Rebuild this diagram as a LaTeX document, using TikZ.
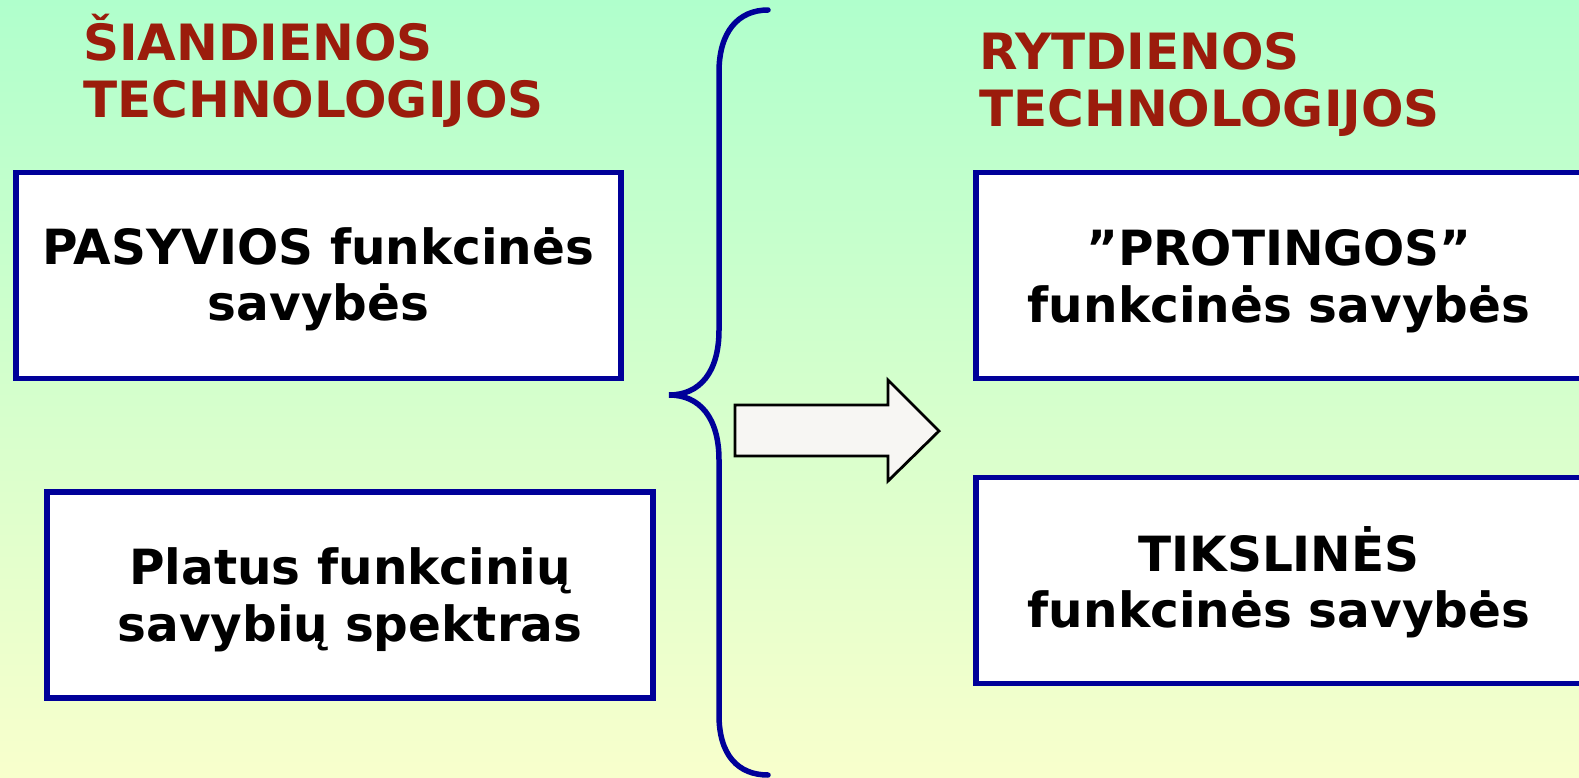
\documentclass[tikz,border=0pt]{standalone}
\usepackage{fontspec}
\setmainfont{DejaVu Sans}
\definecolor{boxblue}{RGB}{0,0,153}
\definecolor{titlered}{RGB}{155,28,12}
\definecolor{bgtop}{RGB}{176,255,204}
\definecolor{bgbot}{RGB}{248,255,204}
\definecolor{arrowfill}{RGB}{247,246,243}
\begin{document}
\begin{tikzpicture}[x=1pt,y=-1pt,
  box/.style={draw=boxblue, line width=5.5pt, fill=white, inner sep=0pt},
  boxtext/.style={align=center, font=\bfseries\fontsize{48.5}{56.5}\selectfont, inner sep=0pt},
  title/.style={text=titlered, font=\bfseries\fontsize{50}{57}\selectfont,
    align=left, anchor=north west, inner sep=0pt},
  brace/.style={draw=boxblue, line width=5.5pt, line cap=round}]
\useasboundingbox (0,0) rectangle (1579,778);
\clip (0,0) rectangle (1579,778);
\shade[top color=bgtop, bottom color=bgbot] (0,0) rectangle (1579,778);

% titles
\node[title] (t1) at (83,14) {ŠIANDIENOS\\TECHNOLOGIJOS};
\node[title] (t2) at (979,32) {RYTDIENOS\\TECHNOLOGIJOS};

% boxes
\node[box, minimum width=605, minimum height=206] (b1) at (318.5,275.5) {};
\node[boxtext] at ([yshift=-4pt]b1.center) {PASYVIOS funkcinės\\savybės};
\node[box, minimum width=606, minimum height=206] (b2) at (350,595) {};
\node[boxtext] at ([yshift=-5pt]b2.center) {Platus funkcinių\\savybių spektras};
\node[box, minimum width=660, minimum height=206, anchor=west] (b3) at (973,275.5) {};
\node[boxtext] at (1279,281) {”PROTINGOS”\\funkcinės savybės};
\node[box, minimum width=660, minimum height=206, anchor=west] (b4) at (973,580.5) {};
\node[boxtext] at (1279,582) {TIKSLINĖS\\funkcinės savybės};

% brace
\draw[brace] (768,10) .. controls (738,10) and (719,32) .. (719,72)
  -- (719,330) .. controls (719,372) and (700,395) .. (669,395)
  .. controls (700,395) and (719,418) .. (719,460)
  -- (719,715) .. controls (719,755) and (738,775) .. (768,775);

% block arrow
\draw[fill=arrowfill, line width=2.8pt, line join=miter]
  (735,405) -- (888,405) -- (888,380) -- (939,431) -- (888,481) -- (888,456) -- (735,456) -- cycle;
\end{tikzpicture}
\end{document}
